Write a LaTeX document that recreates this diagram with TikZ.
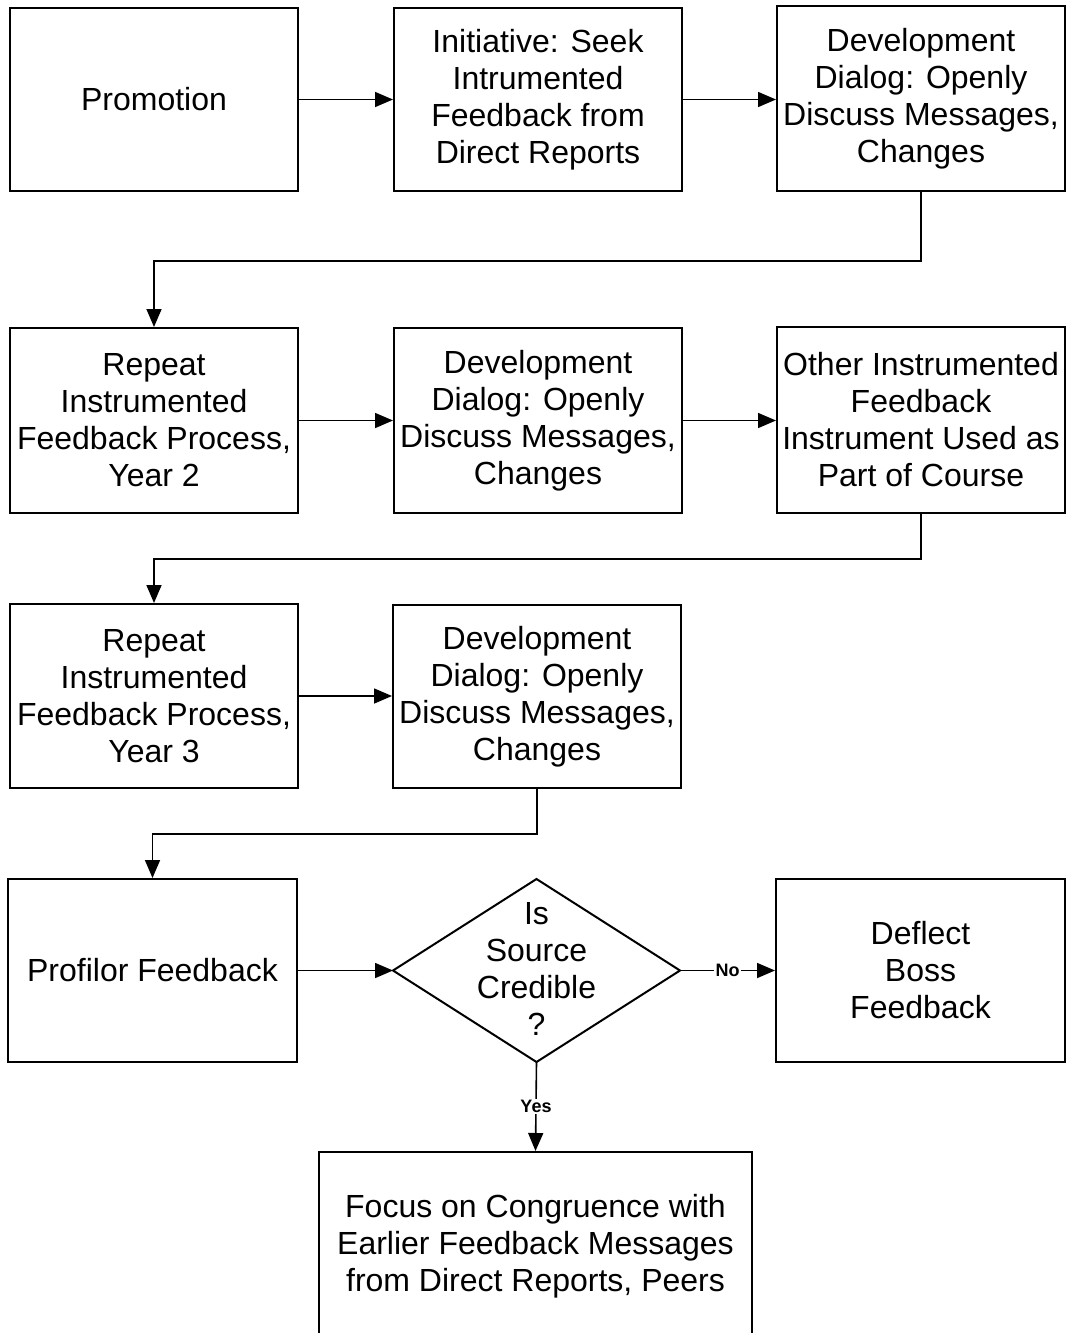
\documentclass[tikz,border=0pt]{standalone}
\usepackage{fontspec}
\setmainfont{Liberation Sans}
\usetikzlibrary{arrows.meta}
\begin{document}
\begin{tikzpicture}[x=1pt,y=-1pt,
  box/.style={draw, line width=2pt, minimum width=288pt, minimum height=183pt,
    align=center, inner sep=0pt, font=\fontsize{32}{37}\selectfont},
  flow/.style={line width=1.6pt, -{Triangle[length=18pt,width=15pt]}},
  tag/.style={fill=white, inner sep=1.5pt, font=\fontsize{18}{21}\selectfont\bfseries}]
\useasboundingbox (0,0) rectangle (1066,1333);
\fill[white] (0,0) rectangle (1066,1333);

% row 1
\node[box] (promo) at (154,99.5) {Promotion};
\node[box] (seek) at (538,99.5) {Initiative: Seek\\Intrumented\\Feedback from\\Direct Reports};
\node[box, minimum height=185pt] (dev1) at (921,98.5) {Development\\Dialog: Openly\\Discuss Messages,\\Changes};

% row 2
\node[box, minimum height=185pt] (rep2) at (154,420.5) {Repeat\\Instrumented\\Feedback Process,\\Year 2};
\node[box, minimum height=185pt] (dev2) at (538,420.5) {Development\\Dialog: Openly\\Discuss Messages,\\Changes};
\node[box, minimum height=186pt] (other) at (921,420) {Other Instrumented\\Feedback\\Instrument Used as\\Part of Course};

% row 3
\node[box, minimum height=184pt] (rep3) at (154,696) {Repeat\\Instrumented\\Feedback Process,\\Year 3};
\node[box] (dev3) at (537,696.5) {Development\\Dialog: Openly\\Discuss Messages,\\Changes};

% row 4: decision
\node[box, minimum width=289pt] (prof) at (152.5,970.5) {Profilor Feedback};
\coordinate (dT) at (536.5,879);
\coordinate (dR) at (680,970.5);
\coordinate (dB) at (536.5,1062);
\coordinate (dL) at (393,970.5);
\draw[line width=2pt, line join=miter] (dT) -- (dR) -- (dB) -- (dL) -- cycle;
\node[align=center, inner sep=0pt, font=\fontsize{32}{37}\selectfont] (ask) at (536.5,969) {Is\\Source\\Credible\\?};
\node[box, minimum width=289pt] (deflect) at (920.5,970.5) {Deflect\\Boss\\Feedback};

% outcome box, running past the lower edge
\node[box, minimum width=433pt, minimum height=188pt] (focus) at (535.5,1246) {Focus on Congruence with\\Earlier Feedback Messages\\from Direct Reports, Peers};

% connectors
\draw[flow] (promo.east) -- (seek.west);
\draw[flow] (seek.east) -- (seek.east -| dev1.west);
\draw[flow] (dev1.south) -- ++(0,69) -| (rep2.north);
\draw[flow] (rep2.east) -- (dev2.west);
\draw[flow] (dev2.east) -- (dev2.east -| other.west);
\draw[flow] (other.south) -- ++(0,45) -| (rep3.north);
\draw[flow] (rep3.east) -- (rep3.east -| dev3.west);
\draw[flow] (dev3.south) -- ++(0,45) -| (prof.north);
\draw[flow] (prof.east) -- (dL);
\draw[flow] (dR) -- node[tag] {No} (deflect.west);
\draw[flow] (dB) -- node[tag] {Yes} (focus.north);
\end{tikzpicture}
\end{document}
